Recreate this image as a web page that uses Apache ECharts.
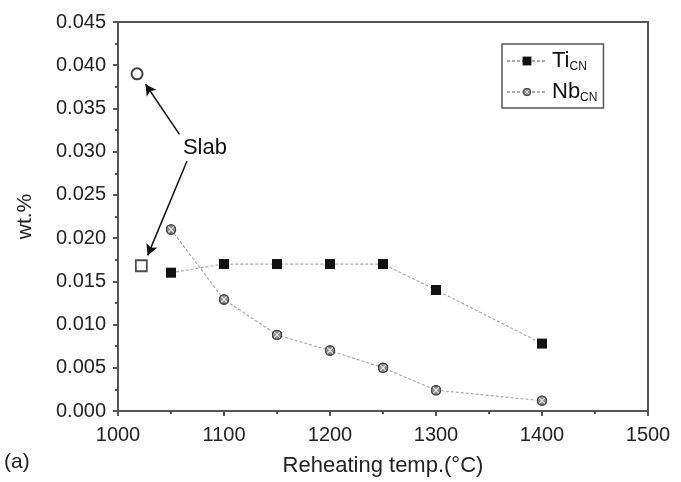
<!DOCTYPE html>
<html>
<head>
<meta charset="utf-8">
<script src="https://cdn.jsdelivr.net/npm/echarts@6/dist/echarts.min.js"></script>
<style>
  html, body { margin: 0; padding: 0; background: #fff; }
  #main { width: 681px; height: 482px; }
</style>
</head>
<body>
<div id="main"></div>
<script>
// reheating temperature (°C)
var tempTi = [1050, 1100, 1150, 1200, 1250, 1300, 1400];
var tempNb = [1050, 1100, 1150, 1200, 1250, 1300, 1400];
// wt.%
var tiCN = [0.016, 0.017, 0.017, 0.017, 0.017, 0.014, 0.0078];
var nbCN = [0.021, 0.0129, 0.0088, 0.007, 0.005, 0.0024, 0.0012];
// slab values (open markers)
var slabNb = [1018, 0.039];
var slabTi = [1022, 0.0168];
var yTicks = [0, 0.005, 0.01, 0.015, 0.02, 0.025, 0.03, 0.035, 0.04, 0.045];
var xTicks = [1000, 1100, 1200, 1300, 1400, 1500];

function pairs(xs, ys) {
    var out = [];
    for (var i = 0; i < xs.length; i++) out.push([xs[i], ys[i]]);
    return out;
}

var nbIcon = 'image://data:image/svg+xml;utf8,' + encodeURIComponent(
    '<svg xmlns="http://www.w3.org/2000/svg" width="20" height="20">' +
    '<circle cx="10" cy="10" r="8.5" fill="#8a8a8a" stroke="#444" stroke-width="2"/>' +
    '<line x1="4.5" y1="4.5" x2="15.5" y2="15.5" stroke="#eee" stroke-width="2"/>' +
    '<line x1="15.5" y1="4.5" x2="4.5" y2="15.5" stroke="#eee" stroke-width="2"/>' +
    '<circle cx="10" cy="10" r="8.5" fill="none" stroke="#444" stroke-width="2"/>' +
    '</svg>');

var axisCol = '#555';
var font = 'Liberation Sans, Arial, sans-serif';

var myChart = echarts.init(document.getElementById('main'));
var option = {
    animation: false,
    backgroundColor: '#fff',
    textStyle: { fontFamily: font },
    grid: {
        left: 118, right: 33, top: 22, bottom: 69,
        show: true, borderColor: axisCol, borderWidth: 2
    },
    legend: {
        left: 502, top: 44,
        orient: 'vertical',
        itemWidth: 40, itemHeight: 11, itemGap: 8,
        padding: [6, 6, 4, 4],
        borderColor: axisCol, borderWidth: 1.5,
        data: ['Ti', 'Nb'],
        formatter: function (name) {
            return '{m|' + name + '}{s|CN}';
        },
        textStyle: {
            rich: {
                m: { fontSize: 22, color: '#111', fontFamily: font },
                s: { fontSize: 12, color: '#111', fontFamily: font, padding: [12, 0, 0, 0] }
            }
        }
    },
    xAxis: {
        type: 'value',
        min: xTicks[0], max: xTicks[xTicks.length - 1], interval: 100,
        name: 'Reheating temp.(\u00B0C)',
        nameLocation: 'middle', nameGap: 44,
        nameTextStyle: { fontSize: 22, color: '#222', fontFamily: font },
        axisLine: { lineStyle: { color: axisCol, width: 2 } },
        axisTick: { length: 5, lineStyle: { color: axisCol, width: 2 } },
        minorTick: { show: true, splitNumber: 2, length: 3, lineStyle: { color: axisCol, width: 2 } },
        splitLine: { show: false },
        axisLabel: {
            fontSize: 20, color: '#222', margin: 14, fontFamily: font,
            formatter: function (v) { return String(v); }
        }
    },
    yAxis: {
        type: 'value',
        min: yTicks[0], max: yTicks[yTicks.length - 1], interval: 0.005,
        name: 'wt.%',
        nameLocation: 'middle', nameGap: 82, nameRotate: 90,
        nameTextStyle: { fontSize: 21, color: '#222', fontFamily: font },
        axisLine: { lineStyle: { color: axisCol, width: 2 } },
        axisTick: { length: 5, lineStyle: { color: axisCol, width: 2 } },
        minorTick: { show: true, splitNumber: 2, length: 3, lineStyle: { color: axisCol, width: 2 } },
        splitLine: { show: false },
        axisLabel: {
            fontSize: 20, color: '#222', margin: 12, fontFamily: font,
            formatter: function (v) { return v.toFixed(3); }
        }
    },
    graphic: [{
        type: 'text', left: 4, top: 452,
        style: { text: '(a)', fontSize: 21, fill: '#222', fontFamily: font }
    }],
    series: [{
        name: 'Ti',
        type: 'line',
        data: pairs(tempTi, tiCN),
        symbol: 'rect', symbolSize: 10,
        itemStyle: { color: '#111' },
        lineStyle: { color: '#aaa', width: 1.2, type: [3, 2] },
        z: 3
    }, {
        name: 'Nb',
        type: 'line',
        data: pairs(tempNb, nbCN),
        symbol: nbIcon, symbolSize: 11,
        itemStyle: { color: '#666' },
        lineStyle: { color: '#aaa', width: 1.2, type: [3, 2] },
        z: 3
    }, {
        name: 'Slab',
        type: 'scatter',
        data: [slabNb],
        symbol: 'circle', symbolSize: 11,
        itemStyle: { color: '#fff', borderColor: '#111', borderWidth: 2 },
        z: 4,
        markPoint: {
            symbol: 'circle', symbolSize: 1,
            itemStyle: { color: 'rgba(0,0,0,0)' },
            label: {
                show: true, position: 'inside', formatter: 'Slab',
                fontSize: 22, color: '#111', fontFamily: font
            },
            data: [{ coord: [1082, 0.0304] }]
        },
        markLine: {
            silent: true,
            symbol: ['none', 'arrow'], symbolSize: [9, 11],
            label: { show: false },
            lineStyle: { color: '#111', width: 1.5, type: 'solid' },
            data: [
                [{ coord: [1058, 0.0320] }, { coord: [1026, 0.0378] }],
                [{ coord: [1065, 0.0289] }, { coord: [1028, 0.0180] }]
            ]
        }
    }, {
        name: 'SlabTi',
        type: 'scatter',
        data: [slabTi],
        symbol: 'rect', symbolSize: 11,
        itemStyle: { color: '#fff', borderColor: '#222', borderWidth: 1.8 },
        z: 4
    }]
};
myChart.setOption(option);
</script>
</body>
</html>
